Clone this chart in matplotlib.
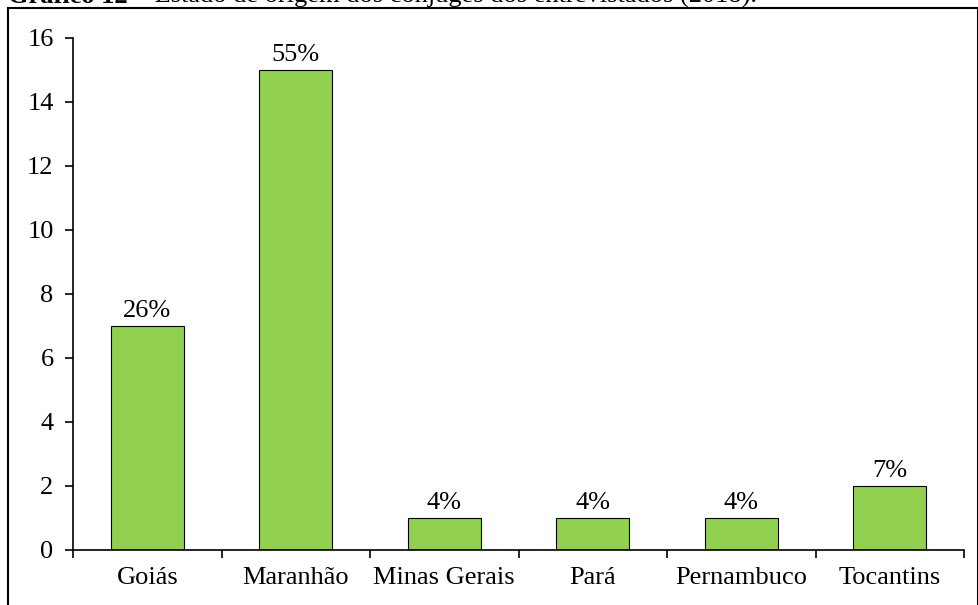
import matplotlib.pyplot as plt
from matplotlib.patches import Rectangle

plt.rcParams['font.family'] = ['Liberation Serif', 'DejaVu Serif']

estados = ["Goiás", "Maranhão", "Minas Gerais", "Pará", "Pernambuco", "Tocantins"]
valores = [7, 15, 1, 1, 1, 2]
rotulos = ["26%", "55%", "4%", "4%", "4%", "7%"]

W, H = 979, 605
FS = 19
fig = plt.figure(figsize=(W / 100, H / 100), dpi=100)
ax = fig.add_axes([73 / W, 1 - 550 / H, (964 - 73) / W, (550 - 38) / H])

x = range(len(estados))
barras = ax.bar(x, valores, width=0.49, color="#92D050", edgecolor="black", linewidth=0.8)
for b, r in zip(barras, rotulos):
    ax.text(b.get_x() + b.get_width() / 2, b.get_height() + 0.12, r,
            ha="center", va="bottom", fontsize=FS)

ax.set_xlim(-0.5, len(estados) - 0.5)
ax.set_ylim(0, 16)
ax.set_yticks(range(0, 17, 2))
ax.set_xticks(x)
ax.set_xticklabels(estados, fontsize=FS)
ax.set_xticks([i - 0.5 for i in range(len(estados) + 1)], minor=True)
ax.tick_params(axis="x", which="major", length=0, pad=12)
ax.tick_params(axis="x", which="minor", length=6, width=1.2, direction="out")
ax.tick_params(axis="y", length=6, width=1.2, labelsize=FS, pad=8)
for s in ["top", "right"]:
    ax.spines[s].set_visible(False)
ax.spines["left"].set_linewidth(1.2)
ax.spines["bottom"].set_linewidth(1.2)

# moldura e título cortado no topo
fig.patches.append(Rectangle((8 / W, -0.01), (978 - 8) / W, 1 - 8 / H + 0.01,
                             transform=fig.transFigure, fill=False,
                             edgecolor="black", linewidth=1.5))
t1 = fig.text(8 / W, 1 - 3 / H, "Gráfico 12", fontsize=FS, fontweight="bold",
              va="baseline", ha="left")
fig.canvas.draw()
bb = t1.get_window_extent()
fig.text(bb.x1 / W, 1 - 3 / H, " – Estado de origem dos cônjuges dos entrevistados (2018).",
         fontsize=FS, va="baseline", ha="left")

fig.savefig("out.png", dpi=100)
